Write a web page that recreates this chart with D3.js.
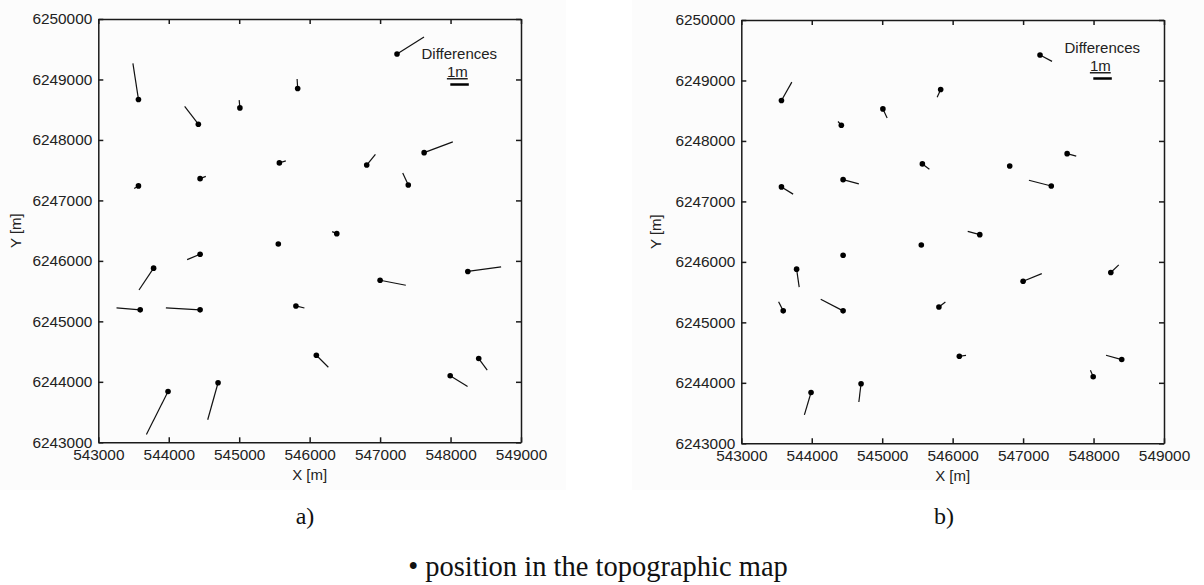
<!DOCTYPE html>
<html>
<head>
<meta charset="utf-8">
<script src="https://cdn.jsdelivr.net/npm/d3@7.9.0/dist/d3.min.js"></script>
<style>
  body { margin: 0; background: #fff; }
  svg { display: block; }
  .axis path, .axis line { stroke: #1a1a1a; stroke-width: 1.5; }
  .axis text { font-family: 'Liberation Sans', Arial, sans-serif; font-size: 15.4px; fill: #222; }
  .label { font-family: 'Liberation Sans', Arial, sans-serif; font-size: 15px; fill: #222; }
  .caption { font-family: 'Liberation Serif', 'Times New Roman', serif; fill: #111; }
</style>
</head>
<body>
<svg id="chart" width="1204" height="585"></svg>
<script>
const xTicks = [543000, 544000, 545000, 546000, 547000, 548000, 549000];
const yTicks = [6243000, 6244000, 6245000, 6246000, 6247000, 6248000, 6249000, 6250000];

// point positions in the topographic map [m]
const pointE = [543570, 544420, 545010, 545830, 543570, 544445, 545570, 545555, 544445, 543785,
                543595, 544445, 545805, 543990, 544700, 547240, 546810, 547625, 547400, 546385,
                547000, 548245, 546095, 547995, 548400];
const pointN = [6248670, 6248260, 6248530, 6248850, 6247240, 6247360, 6247620, 6246280, 6246110, 6245880,
                6245190, 6245190, 6245255, 6243840, 6243985, 6249420, 6247585, 6247790, 6247255, 6246450,
                6245680, 6245825, 6244440, 6244100, 6244385];

// differences [m], panel a)
const diffEa = [-0.30, -0.74, -0.04, -0.03, -0.23, 0.31, 0.35, 0, -0.70, -0.79,
                -1.28, -1.85, 0.46, -1.17, -0.56, 1.46, 0.47, 1.55, -0.30, -0.25,
                1.39, 1.80, 0.65, 0.94, 0.46];
const diffNa = [1.95, 0.97, 0.42, 0.52, -0.14, 0.12, 0.11, 0, -0.29, -1.18,
                0.11, 0.11, -0.11, -2.32, -2.00, 0.92, 0.58, 0.58, 0.65, 0.11,
                -0.27, 0.25, -0.65, -0.58, -0.63];

// differences [m], panel b)
const diffEb = [0.56, -0.18, 0.23, -0.19, 0.63, 0.85, 0.38, 0, 0, 0.14,
                -0.25, -1.21, 0.35, -0.36, -0.12, 0.65, 0, 0.49, -1.21, -0.65,
                1.01, 0.43, 0.36, -0.15, -0.85];
const diffNb = [0.99, 0.20, -0.49, -0.42, -0.39, -0.23, -0.29, 0, 0, -0.97,
                0.49, 0.63, 0.27, -1.21, -0.99, -0.34, 0, -0.13, 0.31, 0.18,
                0.41, 0.41, 0.05, 0.35, 0.23];

const panelLabels = ['a)', 'b)'];
const legendText = '\u2022 position in the topographic map';

const W = 422.7, H = 423.3;
const x = d3.scaleLinear().domain([543000, 549000]).range([0, W]);
const y = d3.scaleLinear().domain([6243000, 6250000]).range([H, 0]);
const scaleBar = d3.scaleLinear().domain([0, 1]).range([0, 18.5]); // 1 m on the map

const panels = [
  { left: 98.3, top: 19, dE: diffEa, dN: diffNa, label: panelLabels[0], legendY: 40, ylabX: -77, capX: 305 },
  { left: 741.3, top: 20, dE: diffEb, dN: diffNb, label: panelLabels[1], legendY: 33, ylabX: -80, capX: 944 }
];

const svg = d3.select('#chart');

svg.append('rect').attr('x', 0).attr('y', 0).attr('width', 566).attr('height', 490).attr('fill', '#fcfcfc');
svg.append('rect').attr('x', 632).attr('y', 0).attr('width', 572).attr('height', 490).attr('fill', '#fcfcfc');

panels.forEach((p) => {
  const g = svg.append('g').attr('transform', `translate(${p.left},${p.top})`);

  g.append('g').attr('class', 'axis')
    .attr('transform', `translate(0,${H})`)
    .call(d3.axisBottom(x).tickValues(xTicks).tickSizeInner(-5).tickSizeOuter(0)
      .tickPadding(6.5).tickFormat(d3.format('d')));
  g.append('g').attr('class', 'axis')
    .call(d3.axisLeft(y).tickValues(yTicks).tickSizeInner(-5).tickSizeOuter(0)
      .tickPadding(6).tickFormat(d3.format('d')));
  g.append('g').attr('class', 'axis')
    .call(d3.axisTop(x).tickValues(xTicks).tickSizeInner(-5).tickSizeOuter(0).tickFormat(''));
  g.append('g').attr('class', 'axis')
    .attr('transform', `translate(${W},0)`)
    .call(d3.axisRight(y).tickValues(yTicks).tickSizeInner(-5).tickSizeOuter(0).tickFormat(''));

  // axis titles
  g.append('text').attr('class', 'label')
    .attr('x', W / 2).attr('y', H + 38)
    .attr('text-anchor', 'middle')
    .text('X [m]');
  g.append('text').attr('class', 'label')
    .attr('transform', `translate(${p.ylabX},${H / 2}) rotate(-90)`)
    .attr('text-anchor', 'middle')
    .text('Y [m]');

  // difference vectors
  g.selectAll('line.vec')
    .data(pointE)
    .enter()
    .append('line')
    .attr('class', 'vec')
    .attr('x1', (d, i) => x(pointE[i]))
    .attr('y1', (d, i) => y(pointN[i]))
    .attr('x2', (d, i) => x(pointE[i]) + scaleBar(p.dE[i]))
    .attr('y2', (d, i) => y(pointN[i]) - scaleBar(p.dN[i]))
    .attr('stroke', '#111')
    .attr('stroke-width', 1.2);

  g.selectAll('circle')
    .data(pointE)
    .enter()
    .append('circle')
    .attr('cx', (d, i) => x(pointE[i]))
    .attr('cy', (d, i) => y(pointN[i]))
    .attr('r', 2.8)
    .attr('fill', '#000');

  // scale legend
  g.append('text').attr('class', 'label')
    .attr('x', 361).attr('y', p.legendY)
    .attr('text-anchor', 'middle')
    .text('Differences');
  g.append('text').attr('class', 'label')
    .attr('x', 359).attr('y', p.legendY + 18)
    .attr('text-anchor', 'middle')
    .attr('text-decoration', 'underline')
    .text('1m');
  g.append('line')
    .attr('x1', 352).attr('x2', 352 + scaleBar(1))
    .attr('y1', p.legendY + 25.5).attr('y2', p.legendY + 25.5)
    .attr('stroke', '#000').attr('stroke-width', 2.5);

  // panel caption
  svg.append('text').attr('class', 'caption')
    .attr('x', p.capX).attr('y', 524)
    .attr('text-anchor', 'middle')
    .attr('font-size', 24)
    .text(p.label);
});

svg.append('text').attr('class', 'caption')
  .attr('x', 598).attr('y', 576)
  .attr('text-anchor', 'middle')
  .attr('font-size', 28.5)
  .text(legendText);
</script>
</body>
</html>
